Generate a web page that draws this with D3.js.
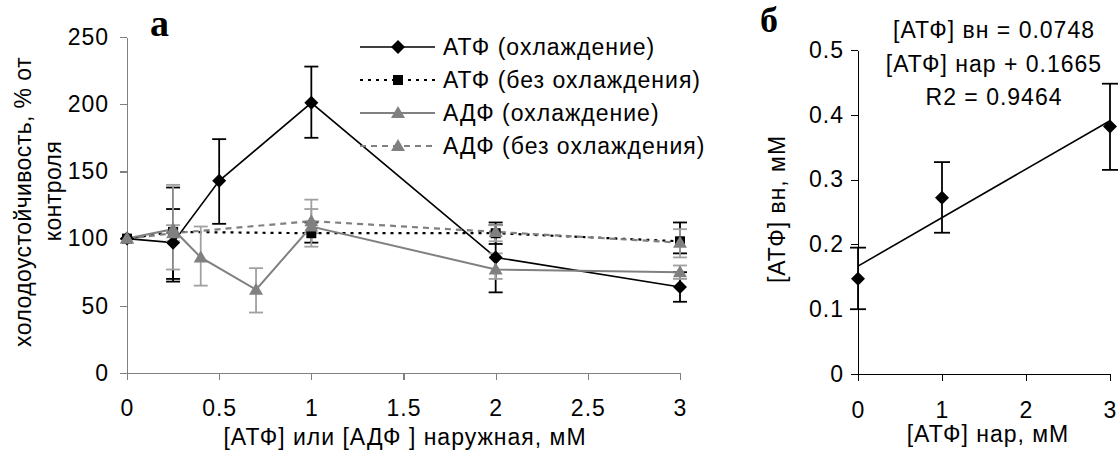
<!DOCTYPE html>
<html>
<head>
<meta charset="utf-8">
<script src="https://cdn.jsdelivr.net/npm/d3@7"></script>
<style>
  body { margin: 0; background: #fff; }
  svg text { font-family: "Liberation Sans", Arial, sans-serif; font-size: 23px; letter-spacing: 1px; fill: #000; }
  .axis path, .axis line { shape-rendering: crispEdges; }
</style>
</head>
<body>
<svg id="chart" width="1120" height="450"></svg>
<script>
// ---- panel а data ----
const xTicksA = [0, 0.5, 1, 1.5, 2, 2.5, 3];
const yTicksA = [0, 50, 100, 150, 200, 250];

const atpCoolX = [0, 0.25, 0.5, 1, 2, 3];
const atpCoolY = [100, 97, 143, 201, 86, 64];
const atpCoolLo = [100, 70, 111, 175, 60, 53];
const atpCoolHi = [100, 122, 174, 228, 112, 75];

const atpNoCoolX = [0, 0.25, 1, 2, 3];
const atpNoCoolY = [100, 105, 104, 104, 98];
const atpNoCoolLo = [100, 68, 97, 96, 89];
const atpNoCoolHi = [100, 138, 112, 110, 112];

const adpCoolX = [0, 0.25, 0.4, 0.7, 1, 2, 3];
const adpCoolY = [100, 107, 86, 62, 109, 77, 75];
const adpCoolLo = [100, 77, 65, 45, 94, 70, 70];
const adpCoolHi = [100, 140, 109, 78, 129, 89, 80];

const adpNoCoolX = [0, 0.25, 1, 2, 3];
const adpNoCoolY = [100, 104, 113, 105, 97];
const adpNoCoolLo = [100, 98, 104, 98, 86];
const adpNoCoolHi = [100, 110, 122, 110, 107];

const legendLabels = ['АТФ (охлаждение)', 'АТФ (без охлаждения)', 'АДФ (охлаждение)', 'АДФ (без охлаждения)'];

// ---- panel б data ----
const xTicksB = [0, 1, 2, 3];
const yTicksB = [0, 0.1, 0.2, 0.3, 0.4, 0.5];
const atpInX = [0, 1, 3];
const atpInY = [0.147, 0.272, 0.382];
const atpInLo = [0.1, 0.218, 0.315];
const atpInHi = [0.195, 0.327, 0.448];
const trendSlope = 0.0748, trendIntercept = 0.1665;
const eqLines = ['[АТФ] вн = 0.0748', '[АТФ] нар + 0.1665', 'R2 = 0.9464'];

const svg = d3.select('#chart');

const diamond = 'M0,-7L7,0L0,7L-7,0Z';
const square = 'M-5,-5H5V5H-5Z';
const triangle = 'M0,-7L7,5L-7,5Z';

const series = [
  {x: atpCoolX, y: atpCoolY, lo: atpCoolLo, hi: atpCoolHi, color: '#000', err: '#000', dash: null, width: 1.6, sym: diamond},
  {x: atpNoCoolX, y: atpNoCoolY, lo: atpNoCoolLo, hi: atpNoCoolHi, color: '#000', err: '#000', dash: '3,5', width: 2.2, sym: square},
  {x: adpCoolX, y: adpCoolY, lo: adpCoolLo, hi: adpCoolHi, color: '#808080', err: '#a0a0a0', dash: null, width: 2, sym: triangle},
  {x: adpNoCoolX, y: adpNoCoolY, lo: adpNoCoolLo, hi: adpNoCoolHi, color: '#808080', err: '#a0a0a0', dash: '6,5', width: 2.2, sym: triangle}
];

// ---- panel а ----
const xA = d3.scaleLinear().domain([0, 3]).range([127, 680]);
const yA = d3.scaleLinear().domain([0, 250]).range([373, 37]);

const axA = svg.append('g').attr('class', 'axis')
  .attr('transform', `translate(0, ${yA(0)})`)
  .call(d3.axisBottom(xA).tickValues(xTicksA).tickFormat(d3.format('')).tickSize(7).tickPadding(20).tickSizeOuter(0));
const ayA = svg.append('g').attr('class', 'axis')
  .attr('transform', `translate(${xA(0)}, 0)`)
  .call(d3.axisLeft(yA).tickValues(yTicksA).tickSize(7).tickPadding(11).tickSizeOuter(0));
[axA, ayA].forEach(g => {
  g.selectAll('path, line').attr('stroke', '#808080').attr('stroke-width', 1.3);
  g.attr('font-size', null).attr('font-family', null);
});

const line = d3.line();

series.forEach(s => {
  const pts = s.x.map((d, i) => [xA(d), yA(s.y[i])]);
  svg.append('path')
    .attr('d', line(pts))
    .attr('fill', 'none')
    .attr('stroke', s.color)
    .attr('stroke-width', s.width)
    .attr('stroke-dasharray', s.dash);

  const eb = svg.append('g').attr('stroke', s.err).attr('stroke-width', 1.8);
  s.x.forEach((d, i) => {
    if (s.lo[i] === s.hi[i]) return;
    const cx = xA(d);
    eb.append('line').attr('x1', cx).attr('x2', cx).attr('y1', yA(s.lo[i])).attr('y2', yA(s.hi[i]));
    eb.append('line').attr('x1', cx - 7).attr('x2', cx + 7).attr('y1', yA(s.lo[i])).attr('y2', yA(s.lo[i]));
    eb.append('line').attr('x1', cx - 7).attr('x2', cx + 7).attr('y1', yA(s.hi[i])).attr('y2', yA(s.hi[i]));
  });
});

series.forEach(s => {
  svg.append('g').selectAll('path')
    .data(s.x.map((d, i) => [d, s.y[i]]))
    .join('path')
      .attr('d', s.sym)
      .attr('transform', d => `translate(${xA(d[0])}, ${yA(d[1])})`)
      .attr('fill', s.color);
});

// legend
const leg = svg.append('g');
series.forEach((s, i) => {
  const ly = 47 + i * 33;
  leg.append('line').attr('x1', 360).attr('x2', 435).attr('y1', ly).attr('y2', ly)
    .attr('stroke', s.color).attr('stroke-width', s.width).attr('stroke-dasharray', s.dash);
  leg.append('path').attr('d', s.sym).attr('transform', `translate(398, ${ly})`).attr('fill', s.color);
  leg.append('text').attr('x', 443).attr('y', ly + 8).text(legendLabels[i]);
});

svg.append('text').attr('transform', 'translate(31, 202) rotate(-90)')
  .attr('text-anchor', 'middle').style('letter-spacing', '0.4px').text('холодоустойчивость, % от');
svg.append('text').attr('transform', 'translate(61, 191) rotate(-90)')
  .attr('text-anchor', 'middle').style('letter-spacing', '0.4px').text('контроля');
svg.append('text').attr('x', 405).attr('y', 445).attr('text-anchor', 'middle')
  .text('[АТФ] или [АДФ ] наружная, мМ');

svg.append('text').attr('x', 150).attr('y', 36)
  .style('font-family', '"Liberation Serif", "Times New Roman", serif')
  .style('font-weight', 'bold').style('font-size', '38px').style('letter-spacing', '0px').text('а');

// ---- panel б ----
const xB = d3.scaleLinear().domain([0, 3]).range([858, 1110]);
const yB = d3.scaleLinear().domain([0, 0.5]).range([374, 50]);

svg.append('g').attr('class', 'axis')
  .attr('transform', `translate(0, ${yB(0)})`)
  .call(d3.axisBottom(xB).tickValues(xTicksB).tickFormat(d3.format('')).tickSize(7).tickPadding(21).tickSizeOuter(0))
  .attr('font-size', null).attr('font-family', null);
svg.append('g').attr('class', 'axis')
  .attr('transform', `translate(${xB(0)}, 0)`)
  .call(d3.axisLeft(yB).tickValues(yTicksB).tickFormat(d => d === 0 ? '0' : d3.format('.1f')(d)).tickSize(7).tickPadding(7).tickSizeOuter(0))
  .attr('font-size', null).attr('font-family', null);

svg.append('line')
  .attr('x1', xB(0)).attr('y1', yB(trendIntercept))
  .attr('x2', xB(3)).attr('y2', yB(trendSlope * 3 + trendIntercept))
  .attr('stroke', '#000').attr('stroke-width', 1.6);

const ebB = svg.append('g').attr('stroke', '#000').attr('stroke-width', 1.8);
atpInX.forEach((d, i) => {
  const cx = xB(d);
  ebB.append('line').attr('x1', cx).attr('x2', cx).attr('y1', yB(atpInLo[i])).attr('y2', yB(atpInHi[i]));
  ebB.append('line').attr('x1', cx - 8).attr('x2', cx + 8).attr('y1', yB(atpInLo[i])).attr('y2', yB(atpInLo[i]));
  ebB.append('line').attr('x1', cx - 8).attr('x2', cx + 8).attr('y1', yB(atpInHi[i])).attr('y2', yB(atpInHi[i]));
});
svg.append('g').selectAll('path')
  .data(atpInX.map((d, i) => [d, atpInY[i]]))
  .join('path')
    .attr('d', diamond)
    .attr('transform', d => `translate(${xB(d[0])}, ${yB(d[1])})`)
    .attr('fill', '#000');

eqLines.forEach((t, i) => {
  svg.append('text').attr('x', 994).attr('y', 38 + i * 33.5).attr('text-anchor', 'middle').text(t);
});

svg.append('text').attr('transform', 'translate(785, 209) rotate(-90)')
  .attr('text-anchor', 'middle').text('[АТФ] вн, мМ');
svg.append('text').attr('x', 988).attr('y', 442).attr('text-anchor', 'middle').text('[АТФ] нар, мМ');

svg.append('text').attr('x', 760).attr('y', 32)
  .style('font-family', '"Liberation Serif", "Times New Roman", serif')
  .style('font-weight', 'bold').style('font-size', '36px').style('letter-spacing', '0px').text('б');
</script>
</body>
</html>
